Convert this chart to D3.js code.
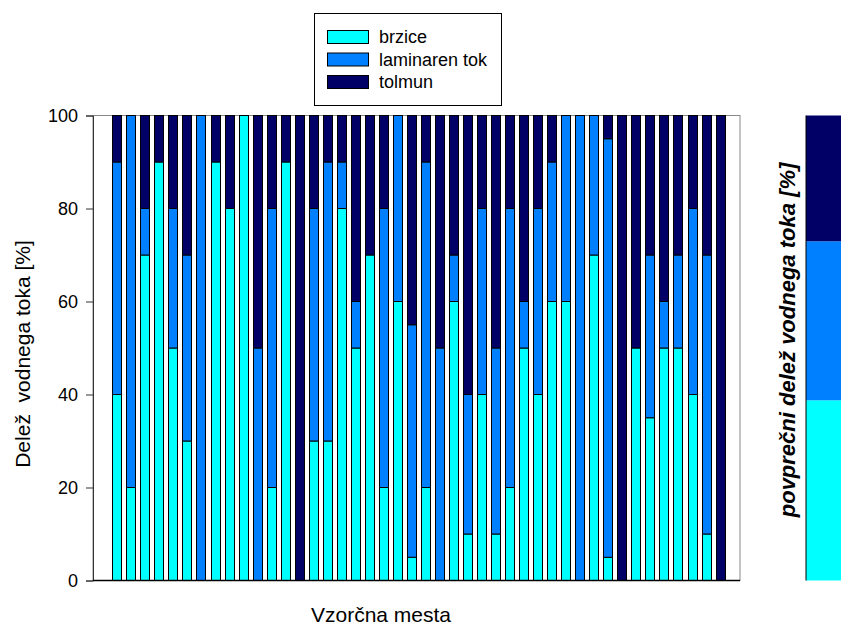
<!DOCTYPE html>
<html>
<head>
<meta charset="utf-8">
<script src="https://cdn.jsdelivr.net/npm/d3@7"></script>
<style>
  body { margin: 0; background: #fff; }
  svg { display: block; font-family: "Liberation Sans", Arial, sans-serif; }
</style>
</head>
<body>
<svg id="chart" width="841" height="626"></svg>
<script>
// ---- data ----
const sites = d3.range(1, 45).map(String);
const seriesNames = ["brzice", "laminaren tok", "tolmun"];
const brzice    = [40,20,70,90,50,30,0,90,80,100,0, 20,90,0,30,30,80,50,70,20,60,5, 20,0,60,10,40,10,20,50,40,60,60, 0,70,5,0,50,35,50,50,40,10,0];
const laminaren = [50,80,10,0,30,40,100,0,0,0,50, 60,0,0,50,60,10,10,0,60,40,50, 70,50,10,30,40,40,60,10,40,30,40, 100,30,90,0,0,35,10,20,40,60,0];
const tolmun    = [10,0,20,10,20,30,0,10,20,0,50, 20,10,100,20,10,10,40,30,20,0,45, 10,50,30,60,20,50,20,40,20,10,0, 0,0,5,100,50,30,40,30,20,30,100];
const yTicks = [0, 20, 40, 60, 80, 100];
const colors = ["#00FFFF", "#0080FF", "#000066"];

// ---- layout ----
const svg = d3.select("#chart");
const plot = { left: 93, right: 740, top: 115.5, bottom: 580.5 };

const rows = sites.map((s, i) => ({
  site: s,
  "brzice": brzice[i],
  "laminaren tok": laminaren[i],
  "tolmun": tolmun[i]
}));
const stacked = d3.stack().keys(seriesNames)(rows);

const x = d3.scaleBand().domain(sites).range([112.3, 724.6]).paddingInner(5 / 14).paddingOuter(0);
const y = d3.scaleLinear().domain([0, 100]).range([plot.bottom, plot.top]);
const color = d3.scaleOrdinal().domain(seriesNames).range(colors);

// frame (top & right)
svg.append("rect")
  .attr("x", plot.left).attr("y", plot.top)
  .attr("width", plot.right - plot.left).attr("height", plot.bottom - plot.top)
  .attr("fill", "none").attr("stroke", "#888").attr("stroke-width", 1);

// bars
svg.append("g").selectAll("g")
  .data(stacked)
  .join("g")
  .attr("fill", d => color(d.key))
  .selectAll("rect")
  .data(d => d.filter(p => p[1] - p[0] > 0))
  .join("rect")
  .attr("x", p => Math.round(x(p.data.site)) + 0.5)
  .attr("width", Math.round(x.bandwidth()))
  .attr("y", p => y(p[1]))
  .attr("height", p => y(p[0]) - y(p[1]))
  .attr("stroke", "#000")
  .attr("stroke-width", 1);

// y axis
const yAxis = svg.append("g")
  .attr("transform", `translate(${plot.left},0)`)
  .call(d3.axisLeft(y).tickValues(yTicks).tickSize(7).tickPadding(8).tickFormat(d3.format("d")));
yAxis.select(".domain").attr("stroke", "#333");
yAxis.selectAll(".tick line").attr("stroke", "#333");
yAxis.selectAll("text").attr("font-size", 18).attr("fill", "#000").attr("font-family", "Liberation Sans, Arial, sans-serif");

// x axis line
svg.append("line")
  .attr("x1", plot.left).attr("x2", plot.right)
  .attr("y1", plot.bottom).attr("y2", plot.bottom)
  .attr("stroke", "#000").attr("stroke-width", 1.5);

// axis titles
svg.append("text")
  .attr("transform", `translate(30,${(plot.top + plot.bottom) / 2 + 6}) rotate(-90)`)
  .attr("text-anchor", "middle")
  .attr("font-size", 21)
  .attr("xml:space", "preserve")
  .style("white-space", "pre")
  .text("Delež  vodnega toka [%]");

svg.append("text")
  .attr("x", 381).attr("y", 622)
  .attr("text-anchor", "middle")
  .attr("font-size", 21)
  .text("Vzorčna mesta");

// legend
const legend = svg.append("g");
legend.append("rect")
  .attr("x", 314.5).attr("y", 13.5).attr("width", 187).attr("height", 92)
  .attr("fill", "#fff").attr("stroke", "#000").attr("stroke-width", 1);
const li = legend.selectAll("g.item").data(seriesNames).join("g").attr("class", "item")
  .attr("transform", (d, i) => `translate(0,${i * 22.5})`);
li.append("rect")
  .attr("x", 327.5).attr("y", 30.5).attr("width", 41).attr("height", 13)
  .attr("fill", d => color(d)).attr("stroke", "#000").attr("stroke-width", 1);
li.append("text")
  .attr("x", 379).attr("y", 43)
  .attr("font-size", 18)
  .text(d => d);

// average bar on the right
const avg = seriesNames.map((k, i) => ({ key: k, value: d3.mean([brzice, laminaren, tolmun][i]) }));
let acc = 0;
const avgStack = avg.map(a => { const s = { key: a.key, y0: acc, y1: acc + a.value }; acc += a.value; return s; });
const yAvg = d3.scaleLinear().domain([0, acc]).range([plot.bottom, plot.top]);
svg.append("g").selectAll("rect")
  .data(avgStack)
  .join("rect")
  .attr("x", 806).attr("width", 40)
  .attr("y", d => yAvg(d.y1))
  .attr("height", d => yAvg(d.y0) - yAvg(d.y1))
  .attr("fill", d => color(d.key));
svg.append("line")
  .attr("x1", 806).attr("x2", 806)
  .attr("y1", plot.top).attr("y2", plot.bottom)
  .attr("stroke", "#000").attr("stroke-width", 1);

svg.append("text")
  .attr("transform", `translate(795,${340}) rotate(-90)`)
  .attr("text-anchor", "middle")
  .attr("font-size", 22)
  .attr("font-weight", "bold")
  .attr("font-style", "italic")
  .text("povprečni delež vodnega toka [%]");
</script>
</body>
</html>
